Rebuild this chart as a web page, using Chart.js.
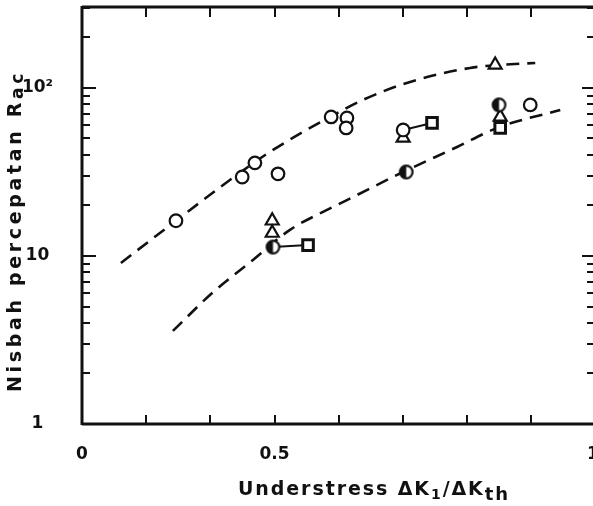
<!DOCTYPE html>
<html>
<head>
<meta charset="utf-8">
<script src="https://cdn.jsdelivr.net/npm/chart.js@4/dist/chart.umd.min.js"></script>
<style>
  html, body { margin: 0; padding: 0; background: #fff; }
  #c { display: block; }
</style>
</head>
<body>
<canvas id="c" width="593" height="506"></canvas>
<script>
// ---- axis ticks / labels ----
const xTickValues = [0, 0.5, 1.327];
const xTickLabels = ['0', '0.5', '1'];
const yTickValues = [1, 10, 100];
const yTickLabels = ['1', '10', '10²'];
const X_MIN = 0, X_MAX = 1.327, Y_MIN = 1, Y_MAX = 303;

// ---- data ----
const openCircleX = [0.244, 0.416, 0.449, 0.509, 0.647, 0.688, 0.686, 0.834, 1.164];
const openCircleY = [16.2, 29.5, 35.8, 30.8, 67.2, 66.3, 57.8, 56.2, 79.2];

const halfCircleX = [0.496, 0.842, 1.083];
const halfCircleY = [11.3, 31.6, 79.2];

const triangleX = [0.494, 0.494, 0.834, 1.073, 1.086];
const triangleY = [16.2, 13.7, 50.4, 137, 67.2];

const squareX = [0.587, 0.909, 1.086];
const squareY = [11.6, 61.9, 57.8];

// connector lines: [seriesA, indexA, seriesB, indexB]
const links = [['half', 0, 'square', 0], ['open', 7, 'square', 1]];

const upperCurveX = [0.101, 0.244, 0.384, 0.488, 0.644, 0.730, 0.852, 1.008, 1.086, 1.177];
const upperCurveY = [9.09, 16.2, 28.3, 41.6, 67.2, 84.9, 108.6, 131.5, 137, 140.8];

const lowerCurveX = [0.236, 0.338, 0.444, 0.540, 0.626, 0.688, 0.834, 0.974, 1.078, 1.242];
const lowerCurveY = [3.58, 6.02, 9.47, 14.3, 18.3, 21.5, 31.6, 44.5, 57.8, 74.0];

const xTitle = [
  { t: 'Understress ', size: 19, dy: 0 },
  { t: 'ΔK', size: 19, dy: 0 },
  { t: '1', size: 14, dy: 4 },
  { t: '/ΔK', size: 19, dy: 0 },
  { t: 'th', size: 18, dy: 5 }
];
const yTitle = [
  { t: 'Nisbah percepatan R', size: 19, dy: 0 },
  { t: 'ac', size: 17, dy: 2 }
];

// ---- styling ----
const INK = '#111';
const FONT = "'DejaVu Sans', 'Liberation Sans', sans-serif";
Chart.defaults.font.family = FONT;
Chart.defaults.color = INK;

const zip = (xs, ys) => xs.map((v, i) => ({ x: v, y: ys[i] }));
const series = {
  open: zip(openCircleX, openCircleY),
  half: zip(halfCircleX, halfCircleY),
  tri: zip(triangleX, triangleY),
  square: zip(squareX, squareY)
};

function halfCircle(r, lw) {
  const s = Math.ceil(2 * r + lw + 2);
  const c = document.createElement('canvas');
  c.width = c.height = s;
  const g = c.getContext('2d');
  const m = s / 2;
  g.fillStyle = '#fff';
  g.beginPath(); g.arc(m, m, r, 0, 2 * Math.PI); g.fill();
  g.fillStyle = INK;
  g.beginPath(); g.arc(m, m, r, Math.PI / 2, 3 * Math.PI / 2); g.closePath(); g.fill();
  g.strokeStyle = INK; g.lineWidth = lw;
  g.beginPath(); g.arc(m, m, r, 0, 2 * Math.PI); g.stroke();
  return c;
}

const markerBase = { showLine: false, borderColor: INK, backgroundColor: '#fff', borderWidth: 2.2 };

const datasets = [
  Object.assign({}, markerBase, { label: 'open', data: series.open, pointStyle: 'circle', pointRadius: 6.3, order: 1 }),
  Object.assign({}, markerBase, { label: 'half', data: series.half, pointStyle: halfCircle(6.3, 2.2), pointRadius: 7, order: 1 }),
  Object.assign({}, markerBase, { label: 'tri', data: series.tri, pointStyle: 'triangle', pointRadius: 7.5, order: 1 }),
  Object.assign({}, markerBase, { label: 'square', data: series.square, pointStyle: 'rect', pointRadius: 7.5, borderWidth: 3, order: 1 })
];
links.forEach((l, i) => {
  datasets.push({
    label: 'link' + i,
    data: [series[l[0]][l[1]], series[l[2]][l[3]]],
    showLine: true, pointRadius: 0, borderColor: INK, borderWidth: 2, order: 2
  });
});
[[upperCurveX, upperCurveY], [lowerCurveX, lowerCurveY]].forEach((c, i) => {
  datasets.push({
    label: 'curve' + i,
    data: zip(c[0], c[1]),
    showLine: true, pointRadius: 0, borderColor: INK, borderWidth: 2.6,
    borderDash: [13, 8], cubicInterpolationMode: 'monotone', fill: false, order: 3
  });
});

function fontStr(s) { return 'bold ' + s.size + 'px ' + FONT; }

function drawRich(ctx, segs, cx, baseY, targetWidth) {
  let nChars = 0, w = 0;
  ctx.letterSpacing = '0px';
  segs.forEach(s => { ctx.font = fontStr(s); w += ctx.measureText(s.t).width; nChars += [...s.t].length; });
  const ls = Math.max(0, (targetWidth - w) / nChars);
  ctx.letterSpacing = ls + 'px';
  const total = w + ls * nChars;
  let cur = cx - total / 2;
  ctx.textAlign = 'left';
  ctx.textBaseline = 'alphabetic';
  segs.forEach(s => {
    ctx.font = fontStr(s);
    ctx.fillText(s.t, cur, baseY + s.dy);
    cur += ctx.measureText(s.t).width;
  });
  ctx.letterSpacing = '0px';
}

const framePlugin = {
  id: 'frame',
  afterDraw(chart) {
    const { ctx, chartArea: a, scales: { x, y } } = chart;
    ctx.save();
    ctx.strokeStyle = INK;
    ctx.lineCap = 'butt';
    ctx.lineWidth = 3;
    ctx.beginPath();
    ctx.moveTo(a.left, a.bottom); ctx.lineTo(a.right, a.bottom);
    ctx.moveTo(a.left, a.bottom + 1); ctx.lineTo(a.left, a.top - 1);
    ctx.moveTo(a.left, a.top); ctx.lineTo(a.right, a.top);
    ctx.stroke();

    ctx.lineWidth = 2;
    ctx.beginPath();
    for (let k = 1; k / 6 < X_MAX; k++) {
      const px = Math.round(x.getPixelForValue(k / 6));
      ctx.moveTo(px, a.bottom); ctx.lineTo(px, a.bottom - 9);
      ctx.moveTo(px, a.top); ctx.lineTo(px, a.top + 10);
    }
    for (let dec = 1; dec <= 100; dec *= 10) {
      for (let m = 1; m <= 9; m++) {
        const v = dec * m;
        if (v <= Y_MIN || v >= Y_MAX) continue;
        const major = (m === 1);
        const py = Math.round(y.getPixelForValue(v));
        ctx.moveTo(a.left, py); ctx.lineTo(a.left + (major ? 14 : 8), py);
        ctx.moveTo(a.right, py); ctx.lineTo(a.right - (major ? 11 : 6), py);
      }
    }
    ctx.stroke();

    ctx.fillStyle = INK;
    drawRich(ctx, xTitle, 374, 495, 272);
    ctx.translate(21, 231);
    ctx.rotate(-Math.PI / 2);
    drawRich(ctx, yTitle, 0, 0, 322);
    ctx.restore();
  }
};

new Chart(document.getElementById('c'), {
  type: 'scatter',
  data: { datasets },
  plugins: [framePlugin],
  options: {
    responsive: false,
    animation: false,
    events: [],
    layout: { autoPadding: false, padding: { top: 7, left: 0, right: 0, bottom: 0 } },
    plugins: { legend: { display: false }, tooltip: { enabled: false } },
    scales: {
      x: {
        type: 'linear', min: X_MIN, max: X_MAX,
        grid: { display: false, drawTicks: false },
        border: { display: false },
        afterBuildTicks: s => { s.ticks = xTickValues.map(v => ({ value: v })); },
        ticks: {
          autoSkip: false, maxRotation: 0, padding: 20,
          font: { size: 17, weight: 'bold' }, color: INK,
          callback: (v) => { const i = xTickValues.indexOf(v); return i >= 0 ? xTickLabels[i] : ''; }
        },
        afterFit: s => { s.height = 82; s.paddingLeft = 0; s.paddingRight = 0; }
      },
      y: {
        type: 'logarithmic', min: Y_MIN, max: Y_MAX,
        grid: { display: false, drawTicks: false },
        border: { display: false },
        afterBuildTicks: s => { s.ticks = yTickValues.map(v => ({ value: v })); },
        ticks: {
          autoSkip: false, padding: 29, crossAlign: 'center',
          font: { size: 17, weight: 'bold' }, color: INK,
          callback: (v) => { const i = yTickValues.indexOf(v); return i >= 0 ? yTickLabels[i] : ''; }
        },
        afterFit: s => { s.width = 82; s.paddingTop = 0; s.paddingBottom = 0; }
      }
    }
  }
});
</script>
</body>
</html>
